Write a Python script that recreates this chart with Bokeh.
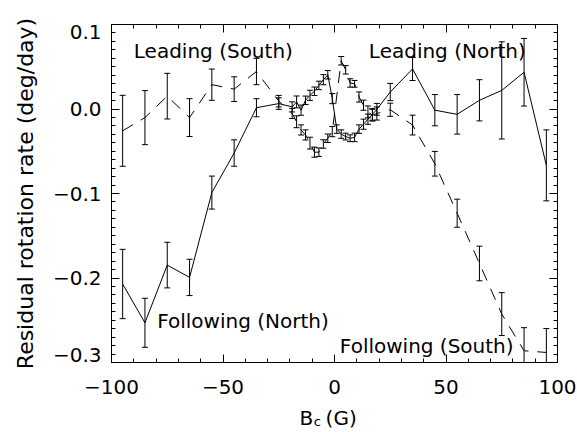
import numpy as np
from bokeh.plotting import figure
from bokeh.layouts import column
from bokeh.models import (ColumnDataSource, Whisker, TeeHead, LinearAxis, FixedTicker,
                          Label, Range1d, CustomJSTickFormatter)
from bokeh.core.properties import value
from bokeh.embed import file_html
from bokeh.resources import INLINE

# ---- data: North hemisphere (solid line) ----
bc_north = [-95, -85, -75, -65, -55, -45, -35, -25,
            -19, -17, -15, -13, -11, -9, -7, -5, -3, -1,
            1, 3, 5, 7, 9, 11, 13, 15, 17, 19,
            25, 35, 45, 55, 65, 75, 85, 95]
rate_north = [-0.2071, -0.2530, -0.1847, -0.1993, -0.0989, -0.0521, 0.0015, 0.0064,
              0.0025, 0.0084, -0.0014, 0.0103, 0.0162, 0.0210, 0.0279, 0.0347, 0.0405, 0.0123,
              -0.0238, -0.0297, -0.0326, -0.0346, -0.0336, -0.0238, -0.0180, -0.0121, -0.0063, -0.0004,
              0.0201, 0.0474, -0.0014, -0.0063, 0.0103, 0.0220, 0.0435, -0.0667]
err_north = [0.041, 0.029, 0.027, 0.0215, 0.0195, 0.0156, 0.0107, 0.0068,
             0.006, 0.007, 0.006, 0.005, 0.006, 0.005, 0.005, 0.006, 0.005, 0.006,
             0.005, 0.005, 0.004, 0.004, 0.005, 0.005, 0.006, 0.006, 0.007, 0.007,
             0.0102, 0.0137, 0.0185, 0.0234, 0.0244, 0.0575, 0.040, 0.042]

# ---- data: South hemisphere (dashed line) ----
bc_south = [-95, -85, -75, -65, -55, -45, -35, -25,
            -19, -17, -15, -13, -11, -9, -7, -5, -3, -1,
            3, 5, 7, 9, 11, 13, 15, 17, 19,
            25, 35, 45, 55, 65, 75, 85, 95]
rate_south = [-0.0258, -0.0102, 0.0152, -0.0102, 0.0288, 0.0235, 0.0444, 0.0093,
              -0.0053, -0.0151, -0.0248, -0.0307, -0.0404, -0.0511, -0.0511, -0.0414, -0.0346, -0.0268,
              0.0571, 0.0464, 0.0308, 0.0298, 0.0142, 0.0045, -0.0034, -0.0073, -0.0053,
              -0.0009, -0.0190, -0.0648, -0.1233, -0.1828, -0.2427, -0.2861, -0.2881]
err_south = [0.042, 0.032, 0.027, 0.0224, 0.0185, 0.0146, 0.0156, 0.0068,
             0.006, 0.007, 0.006, 0.006, 0.007, 0.006, 0.005, 0.005, 0.005, 0.006,
             0.005, 0.005, 0.005, 0.004, 0.006, 0.006, 0.007, 0.007, 0.0078,
             0.0078, 0.0117, 0.0146, 0.0166, 0.0205, 0.0254, 0.0273, 0.0283]

x_ticks = [-100, -50, 0, 50, 100]
x_tick_labels = ["\u2212100", "\u221250", "0", "50", "100"]
y_ticks = [-0.3, -0.2, -0.1, 0.0, 0.1]
y_tick_labels = ["\u22120.3", "\u22120.2", "\u22120.1", "0.0", "0.1"]

x_title_parts = ["B", "c", "(G)"]
y_title = "Residual rotation rate (deg/day)"

FONT = "DejaVu Sans"
TICK_FS = "20px"
TEXT_FS = "20px"
YLAB_FS = "22px"

p = figure(width=577, height=405, x_range=Range1d(-100, 100), y_range=Range1d(-0.3, 0.1),
           output_backend="svg", toolbar_location=None,
           min_border_left=111, min_border_right=20, min_border_top=24, min_border_bottom=43,
           x_axis_location=None, y_axis_location=None)
p.grid.visible = False
p.outline_line_color = "black"
p.outline_line_width = 1
p.background_fill_color = "white"
p.border_fill_color = "white"

xminor = list(range(-100, 101, 10))
yminor = [round(-0.3 + 0.01 * i, 2) for i in range(0, 41)]
xt = FixedTicker(ticks=x_ticks, minor_ticks=xminor)
yt = FixedTicker(ticks=y_ticks, minor_ticks=yminor)


def style_axis(ax, labels=True):
    ax.axis_line_color = "black"
    ax.major_tick_line_color = "black"
    ax.minor_tick_line_color = "black"
    ax.major_tick_in = 8
    ax.major_tick_out = 0
    ax.minor_tick_in = 4
    ax.minor_tick_out = 0
    ax.major_label_text_font = FONT
    ax.major_label_text_font_size = TICK_FS
    ax.major_label_text_color = "black"
    if not labels:
        ax.formatter = CustomJSTickFormatter(code="return ''")
        ax.major_label_standoff = 0


xb = LinearAxis(ticker=xt, major_label_overrides=dict(zip(x_ticks, x_tick_labels)))
style_axis(xb)
xb.major_label_standoff = 17
p.add_layout(xb, "below")

# end labels of the y axis sit inside the box, as in the original figure
y_over = dict(zip(y_ticks, y_tick_labels))
y_over[y_ticks[0]] = y_tick_labels[0] + "\n"
y_over[y_ticks[-1]] = "\n" + y_tick_labels[-1]
yl = LinearAxis(ticker=yt, major_label_overrides=y_over)
style_axis(yl)
yl.major_label_text_line_height = 0.65
yl.major_label_standoff = 10
yl.axis_label = y_title
yl.axis_label_text_font = FONT
yl.axis_label_text_font_size = YLAB_FS
yl.axis_label_text_font_style = "normal"
yl.axis_label_text_color = "black"
yl.axis_label_standoff = 12
p.add_layout(yl, "left")

xa = LinearAxis(ticker=xt)
style_axis(xa, labels=False)
p.add_layout(xa, "above")
yr = LinearAxis(ticker=yt)
style_axis(yr, labels=False)
p.add_layout(yr, "right")

# lines
p.line(bc_north, rate_north, line_color="black", line_width=1)
p.line(bc_south, rate_south, line_color="black", line_width=1, line_dash="12 9")

# error bars
for bc, r, e in ((bc_north, rate_north, err_north), (bc_south, rate_south, err_south)):
    r = np.array(r)
    e = np.array(e)
    src = ColumnDataSource(dict(x=bc, lower=r - e, upper=r + e))
    w = Whisker(source=src, base="x", lower="lower", upper="upper", dimension="height",
                line_color="black", line_width=1, level="overlay",
                upper_head=TeeHead(size=6, line_color="black", line_width=1),
                lower_head=TeeHead(size=6, line_color="black", line_width=1))
    p.add_layout(w)

# curve labels
for tx, x0, y0 in (("Leading (South)", -90.0, 0.0684),
                   ("Leading (North)", 15.4, 0.0684),
                   ("Following (North)", -79.5, -0.2503),
                   ("Following (South)", 2.4, -0.2807)):
    p.add_layout(Label(x=x0, y=y0, text=tx, text_font=FONT, text_font_size=TEXT_FS,
                       text_align="left", text_baseline="alphabetic", text_color="black"))

# x-axis title strip (B with subscript c), same horizontal mapping as main plot
p2 = figure(width=577, height=27, x_range=p.x_range, y_range=Range1d(0, 27),
            output_backend="svg", toolbar_location=None,
            min_border_left=111, min_border_right=20, min_border_top=0, min_border_bottom=0,
            x_axis_location=None, y_axis_location=None)
p2.grid.visible = False
p2.outline_line_color = None
p2.background_fill_color = "white"
p2.border_fill_color = "white"
p2.text(x=[-15.7], y=[15.0], text=[x_title_parts[0]], text_font=value(FONT),
        text_font_size="20px", text_align="left", text_baseline="alphabetic", text_color="black")
p2.text(x=[-9.3], y=[11.0], text=[x_title_parts[1]], text_font=value(FONT),
        text_font_size="13px", text_align="left", text_baseline="alphabetic", text_color="black")
p2.text(x=[-4.0], y=[15.0], text=[x_title_parts[2]], text_font=value(FONT),
        text_font_size="20px", text_align="left", text_baseline="alphabetic", text_color="black")

layout = column(p, p2, spacing=0)
open("out.html", "w").write(file_html(layout, INLINE))
